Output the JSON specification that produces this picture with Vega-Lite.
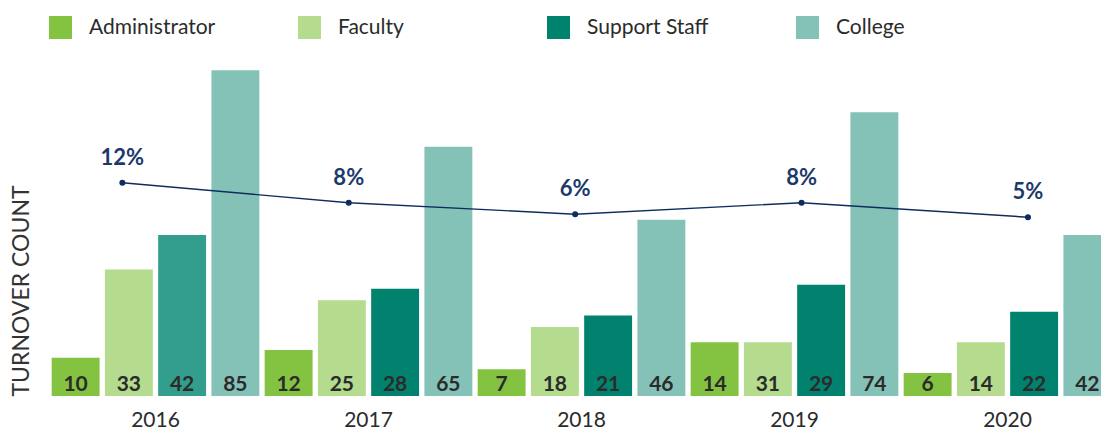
{
  "$schema": "https://vega.github.io/schema/vega-lite/v6.json",
  "autosize": "none",
  "padding": {"left": 49, "top": 51, "right": 0, "bottom": 34},
  "width": 1065,
  "height": 345,
  "config": {
    "font": "Lato",
    "view": {"stroke": null},
    "legend": {"labelFont": "Lato"}
  },
  "datasets": {
    "bars": [
      {"year": "2016", "type": "Administrator", "count": 10, "label": "10"},
      {"year": "2016", "type": "Faculty", "count": 33, "label": "33"},
      {"year": "2016", "type": "Support Staff", "count": 42, "label": "42"},
      {"year": "2016", "type": "College", "count": 85, "label": "85"},
      {"year": "2017", "type": "Administrator", "count": 12, "label": "12"},
      {"year": "2017", "type": "Faculty", "count": 25, "label": "25"},
      {"year": "2017", "type": "Support Staff", "count": 28, "label": "28"},
      {"year": "2017", "type": "College", "count": 65, "label": "65"},
      {"year": "2018", "type": "Administrator", "count": 7, "label": "7"},
      {"year": "2018", "type": "Faculty", "count": 18, "label": "18"},
      {"year": "2018", "type": "Support Staff", "count": 21, "label": "21"},
      {"year": "2018", "type": "College", "count": 46, "label": "46"},
      {"year": "2019", "type": "Administrator", "count": 14, "label": "14"},
      {"year": "2019", "type": "Faculty", "count": 14, "label": "31"},
      {"year": "2019", "type": "Support Staff", "count": 29, "label": "29"},
      {"year": "2019", "type": "College", "count": 74, "label": "74"},
      {"year": "2020", "type": "Administrator", "count": 6, "label": "6"},
      {"year": "2020", "type": "Faculty", "count": 14, "label": "14"},
      {"year": "2020", "type": "Support Staff", "count": 22, "label": "22"},
      {"year": "2020", "type": "College", "count": 42, "label": "42"}
    ],
    "rates": [
      {"year": 2016, "rate": 12.0, "label": "12%"},
      {"year": 2017, "rate": 8.0, "label": "8%"},
      {"year": 2018, "rate": 5.7, "label": "6%"},
      {"year": 2019, "rate": 8.0, "label": "8%"},
      {"year": 2020, "rate": 5.1, "label": "5%"}
    ]
  },
  "layer": [
    {
      "data": {"name": "bars"},
      "encoding": {
        "x": {
          "field": "year", "type": "nominal",
          "scale": {"paddingInner": 0, "paddingOuter": 0},
          "axis": {
            "title": null, "domain": false, "ticks": false, "labelAngle": 0,
            "labelFontSize": 21, "labelColor": "#2b2b2b", "labelPadding": 13, "labelFont": "Lato"
          }
        },
        "xOffset": {
          "field": "type", "type": "nominal",
          "scale": {"domain": ["Administrator", "Faculty", "Support Staff", "College"], "paddingInner": 0.1, "paddingOuter": 0.05}
        }
      },
      "layer": [
        {
          "mark": {"type": "bar"},
          "encoding": {
            "y": {
              "field": "count", "type": "quantitative",
              "scale": {"domain": [0, 90], "nice": false},
              "axis": {
                "title": "TURNOVER COUNT", "labels": false, "ticks": false, "domain": false, "grid": false,
                "titleAnchor": "start", "titleFontSize": 23, "titleFontWeight": "normal", "titleColor": "#333333",
                "titlePadding": 16, "titleFont": "Lato"
              }
            },
            "color": {
              "condition": {"test": "datum.year == '2016' && datum.type == 'Support Staff'", "value": "#339e8e"},
              "field": "type", "type": "nominal",
              "scale": {
                "domain": ["Administrator", "Faculty", "Support Staff", "College"],
                "range": ["#84c341", "#b4db8e", "#00826f", "#84c2b8"]
              },
              "legend": {
                "title": null, "orient": "none", "legendX": 0, "legendY": -35, "direction": "horizontal",
                "columns": 4, "gridAlign": "all", "columnPadding": 82, "padding": 0,
                "symbolType": "square", "symbolSize": 529, "symbolStrokeWidth": 0, "symbolOpacity": 1,
                "labelFontSize": 21, "labelColor": "#2b2b2b", "labelOffset": 17, "labelLimit": 300
              }
            }
          }
        },
        {
          "mark": {"type": "text", "fontSize": 21, "fontWeight": "bold", "color": "#2b2b2b", "baseline": "alphabetic", "dy": -5},
          "encoding": {
            "y": {"datum": 0, "type": "quantitative"},
            "text": {"field": "label"}
          }
        }
      ]
    },
    {
      "data": {"name": "rates"},
      "encoding": {
        "x": {"field": "year", "type": "quantitative", "scale": {"domain": [2015.676, 2020.38], "nice": false, "zero": false}, "axis": null},
        "y": {"field": "rate", "type": "quantitative", "scale": {"domain": [-30.66, 38.34], "nice": false, "zero": false}, "axis": null}
      },
      "layer": [
        {"mark": {"type": "line", "color": "#0e2d5e", "strokeWidth": 1.4}, "encoding": {}},
        {"mark": {"type": "point", "filled": true, "color": "#0e2d5e", "size": 36, "opacity": 1}, "encoding": {}},
        {
          "mark": {"type": "text", "fontSize": 22, "fontWeight": "bold", "color": "#1b3a6b", "baseline": "alphabetic", "dy": -18},
          "encoding": {"text": {"field": "label"}}
        }
      ]
    }
  ],
  "resolve": {"scale": {"x": "independent", "y": "independent"}}
}
